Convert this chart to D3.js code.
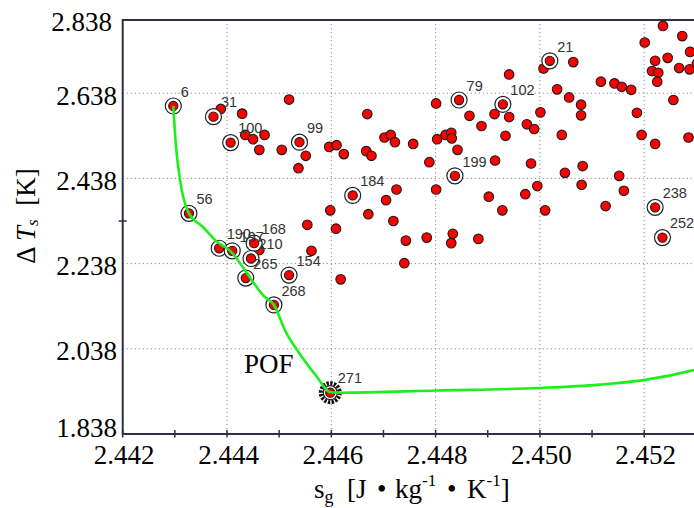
<!DOCTYPE html>
<html><head><meta charset="utf-8">
<script src="https://cdn.jsdelivr.net/npm/d3@7"></script>
<style>body{margin:0;background:#fff;} svg{display:block;}</style>
</head><body>
<svg id="chart" width="694" height="508"></svg>
<script>
// ---------- data ----------
const xTicks = [2.442, 2.444, 2.446, 2.448, 2.450, 2.452];
const xMinorTicks = [2.443, 2.445, 2.447, 2.449, 2.451];
const yTicks = [1.838, 2.038, 2.238, 2.438, 2.638, 2.838];
const yMinorTicks = [2.338];

// ordinary solutions
const pointsX = [2.44388,2.44429,2.44519,2.44435,2.44450,2.44472,2.44462,2.44505,2.44551,2.44537,
  2.44596,2.44610,2.44624,2.44669,2.44702,2.44714,2.44722,2.44757,2.44667,2.44677,
  2.44788,2.44801,2.44865,2.44888,2.44803,2.44819,2.44830,2.44831,2.44842,2.44914,
  2.44913,2.44941,2.44941,2.44934,2.44975,2.44989,2.44983,2.45001,2.45007,2.45064,
  2.45033,2.45056,2.45079,2.45079,2.45042,2.45048,2.45082,2.45117,2.45143,2.45157,
  2.45175,2.45186,2.45195,2.45152,2.45201,2.45236,2.45273,2.45221,2.45245,2.45215,
  2.45227,2.45225,2.45267,2.45287,2.45288,2.45301,2.45256,2.45221,2.45285,2.45161,
  2.45080,2.44598,2.44671,2.44725,2.44705,2.44719,2.44609,2.44554,2.44562,2.44618,
  2.44743,2.44783,2.44833,2.44830,2.44882,2.44740,2.44801,2.44902,2.44928,2.44972,
  2.44995,2.45010,2.45126,2.44462];
const pointsY = [2.601,2.590,2.623,2.540,2.530,2.540,2.505,2.505,2.491,2.462,
  2.512,2.516,2.495,2.589,2.534,2.540,2.523,2.519,2.502,2.491,
  2.476,2.614,2.585,2.561,2.530,2.540,2.545,2.532,2.505,2.480,
  2.589,2.582,2.682,2.538,2.565,2.554,2.473,2.593,2.696,2.711,
  2.647,2.628,2.611,2.586,2.540,2.451,2.467,2.665,2.661,2.653,
  2.646,2.592,2.540,2.444,2.757,2.796,2.772,2.714,2.721,2.690,
  2.686,2.665,2.697,2.694,2.735,2.707,2.622,2.519,2.534,2.409,
  2.423,2.363,2.354,2.412,2.387,2.338,2.320,2.329,2.268,2.201,
  2.292,2.299,2.308,2.286,2.296,2.239,2.412,2.395,2.363,2.401,
  2.420,2.363,2.373,2.270];

// marked (numbered) solutions
const markedIds = ["6","31","100","99","79","102","21","199","184","238","252",
  "56","190","197","168","210","265","154","268","271"];
const markedX = [2.44297,2.44374,2.44407,2.44539,2.44845,2.44929,2.45019,2.44837,2.44641,2.45221,2.45235,
  2.44327,2.44385,2.44410,2.44452,2.44446,2.44436,2.44519,2.44490,2.44598];
const markedY = [2.608,2.583,2.522,2.523,2.622,2.612,2.714,2.444,2.398,2.370,2.299,
  2.356,2.274,2.268,2.286,2.250,2.204,2.211,2.141,1.935];
const optimumId = "271";

// Pareto-optimal front (green curve)
const frontX = [2.44297,2.44302,2.44310,2.44327,2.44354,2.44381,2.44406,2.44425,2.44447,2.44469,
  2.44490,2.44513,2.44543,2.44572,2.44598,2.44617,2.44802,2.45000,2.45115,2.45202,2.45295,2.45345];
const frontY = [2.608,2.516,2.434,2.356,2.324,2.289,2.268,2.239,2.200,2.164,
  2.141,2.077,2.020,1.973,1.936,1.935,1.940,1.946,1.954,1.965,1.988,2.005];
const frontLabel = "POF";

// ---------- drawing ----------
const svg = d3.select("#chart");
const frame = {left: 122.7, top: 20, bottom: 434, right: 720};
const x = d3.scaleLinear().domain([2.442, 2.452]).range([122.7, 644.2]);
const y = d3.scaleLinear().domain([1.838, 2.838]).range([434, 8]);

const serif = "'Liberation Serif','Times New Roman',serif";
const sans = "'Liberation Sans',Arial,sans-serif";
const axisColor = "#2e2e48";

// grid
const grid = svg.append("g").attr("stroke", "#8a8a8a").attr("stroke-width", 1)
  .attr("stroke-dasharray", "1.2,2.8");
grid.selectAll("line.v").data(xTicks.filter(d => x(d) > frame.left + 2)).join("line")
  .attr("x1", d => x(d)).attr("x2", d => x(d)).attr("y1", frame.top).attr("y2", frame.bottom);
grid.selectAll("line.h").data(yTicks.filter(d => y(d) > frame.top + 2 && y(d) < frame.bottom - 2)).join("line")
  .attr("y1", d => y(d)).attr("y2", d => y(d)).attr("x1", frame.left).attr("x2", frame.right);

// frame
const fr = svg.append("g").attr("stroke", axisColor).attr("stroke-width", 2).attr("fill", "none");
fr.append("path").attr("d", `M${frame.right},${frame.top}H${frame.left}V${frame.bottom}H${frame.right}`);
fr.selectAll("line.xt").data(xTicks.concat(xMinorTicks)).join("line")
  .attr("stroke-width", 1.5)
  .attr("x1", d => x(d)).attr("x2", d => x(d)).attr("y1", frame.bottom - 4).attr("y2", frame.bottom + 3.5);
fr.selectAll("line.yt").data(yMinorTicks).join("line")
  .attr("stroke-width", 1.5)
  .attr("y1", d => y(d)).attr("y2", d => y(d)).attr("x1", frame.left - 4).attr("x2", frame.left + 4);

// tick labels
svg.append("g").selectAll("text").data(xTicks).join("text")
  .attr("x", d => x(d) + 1.5).attr("y", 464).attr("text-anchor", "middle")
  .attr("font-family", serif).attr("font-size", 27).attr("fill", "#000")
  .text(d => d.toFixed(3));
svg.append("g").selectAll("text").data(yTicks).join("text")
  .attr("x", d => y(d) < frame.top ? 112 : 117)
  .attr("y", d => Math.min(Math.max(y(d) + 2, 22), 427.5))
  .attr("dy", "0.35em").attr("text-anchor", "end")
  .attr("font-family", serif).attr("font-size", 27).attr("fill", "#000")
  .text(d => d.toFixed(3));

// axis titles
const xt = svg.append("text").attr("y", 498)
  .attr("font-family", serif).attr("font-size", 27).attr("fill", "#000");
xt.append("tspan").attr("x", 314).text("s");
xt.append("tspan").attr("font-size", 18).attr("dy", 5).text("g");
xt.append("tspan").attr("x", 347).attr("dy", -5).text("[J");
xt.append("tspan").attr("x", 377).text("•");
xt.append("tspan").attr("x", 395).text("kg");
xt.append("tspan").attr("font-size", 17).attr("dy", -12).text("-1");
xt.append("tspan").attr("x", 447).attr("dy", 12).text("•");
xt.append("tspan").attr("x", 467).text("K");
xt.append("tspan").attr("font-size", 17).attr("dy", -12).text("-1");
xt.append("tspan").attr("dy", 12).text("]");

const yt = svg.append("text").attr("transform", "translate(35,216) rotate(-90)")
  .attr("text-anchor", "middle")
  .attr("font-family", serif).attr("font-size", 27).attr("fill", "#000").style("white-space", "pre");
yt.append("tspan").text("Δ ");
yt.append("tspan").attr("font-style", "italic").text("T");
yt.append("tspan").attr("font-style", "italic").attr("font-size", 17).attr("dy", 3).text("s");
yt.append("tspan").attr("dy", -3).text("  [K]");

// ordinary points
svg.append("g").selectAll("circle").data(d3.range(pointsX.length)).join("circle")
  .attr("cx", i => x(pointsX[i])).attr("cy", i => y(pointsY[i])).attr("r", 4.8)
  .attr("fill", "#f00").attr("stroke", "#1a1a1a").attr("stroke-width", 1.1);

// marked points
const mk = svg.append("g");
const marked = d3.range(markedIds.length).map(i => ({id: markedIds[i], x: markedX[i], y: markedY[i]}));
const opt = marked.filter(d => d.id === optimumId);
mk.selectAll("circle.gear").data(opt).join("circle")
  .attr("cx", d => x(d.x)).attr("cy", d => y(d.y)).attr("r", 9.5)
  .attr("fill", "#fff").attr("stroke", "#111").attr("stroke-width", 4)
  .attr("stroke-dasharray", "2.4,1.3");
mk.selectAll("circle.ring").data(marked).join("circle")
  .attr("cx", d => x(d.x)).attr("cy", d => y(d.y)).attr("r", d => d.id === optimumId ? 7 : 8)
  .attr("fill", "#fff").attr("stroke", "#222").attr("stroke-width", 1.2);
mk.selectAll("circle.dot").data(marked).join("circle")
  .attr("cx", d => x(d.x)).attr("cy", d => y(d.y)).attr("r", 4.6)
  .attr("fill", "#f00").attr("stroke", "#1a1a1a").attr("stroke-width", 1.1);

// Pareto front
svg.append("path")
  .datum(d3.range(frontX.length))
  .attr("fill", "none").attr("stroke", "#1cf01c").attr("stroke-width", 2.6)
  .attr("d", d3.line().x(i => x(frontX[i])).y(i => y(frontY[i])).curve(d3.curveMonotoneX));

// labels
svg.append("g").selectAll("text").data(marked).join("text")
  .attr("x", d => x(d.x) + 7.5).attr("y", d => y(d.y) - 9.3)
  .attr("font-family", sans).attr("font-size", 14.5).attr("fill", "#333")
  .text(d => d.id);

svg.append("text").attr("x", 244).attr("y", 373)
  .attr("font-family", serif).attr("font-size", 27).attr("fill", "#000")
  .text(frontLabel);
</script>
</body></html>
